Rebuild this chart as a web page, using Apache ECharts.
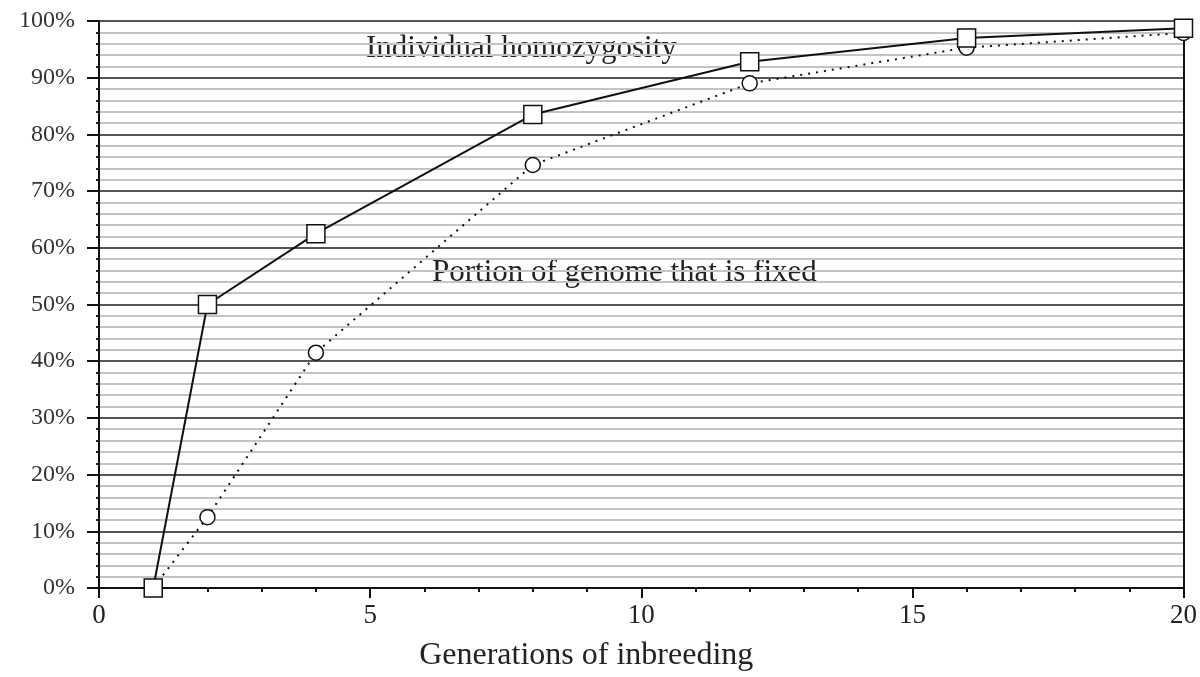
<!DOCTYPE html>
<html>
<head>
<meta charset="utf-8">
<script src="https://cdn.jsdelivr.net/npm/echarts@6/dist/echarts.min.js"></script>
<style>
  html, body { margin: 0; padding: 0; background: #fff; }
  #chart { width: 1200px; height: 677px; }
</style>
</head>
<body>
<div id="chart"></div>
<script>
// generations of inbreeding
const generations = [1, 2, 4, 8, 12, 16, 20]
// individual homozygosity (fraction)
const homozygosity = [0, 0.50, 0.625, 0.835, 0.928, 0.970, 0.987]
// portion of genome that is fixed (fraction)
const fixedPortion = [0, 0.125, 0.415, 0.746, 0.890, 0.953, 0.979]

const serif = 'Liberation Serif'

function pairs(xs, ys) {
  const out = []
  for (let i = 0; i < xs.length; i++) {
    out.push([xs[i], ys[i]])
  }
  return out
}

const myChart = echarts.init(document.getElementById('chart'))
const option = {
  backgroundColor: '#fff',
  animation: false,
  grid: { left: 99, right: 12, top: 21, bottom: 85 },
  xAxis: {
    type: 'value',
    min: 0,
    max: 20,
    interval: 5,
    name: 'Generations of inbreeding',
    nameLocation: 'middle',
    nameGap: 52,
    nameTextStyle: { fontFamily: serif, fontSize: 32, color: '#222', padding: [0, 110, 0, 0] },
    axisLine: { lineStyle: { color: '#111', width: 2 } },
    axisTick: { length: 10, lineStyle: { color: '#111', width: 2 } },
    minorTick: { show: true, splitNumber: 5, length: 4, lineStyle: { color: '#111', width: 2 } },
    axisLabel: { fontFamily: serif, fontSize: 27, color: '#222', margin: 14 },
    splitLine: { show: false }
  },
  yAxis: [
    {
      type: 'value',
      min: 0,
      max: 1,
      interval: 0.1,
      axisLine: { show: true, lineStyle: { color: '#111', width: 2 } },
      axisTick: { length: 12, lineStyle: { color: '#111', width: 2 } },
      minorTick: { show: true, splitNumber: 5, length: 3, lineStyle: { color: '#222', width: 2 } },
      axisLabel: {
        fontFamily: serif, fontSize: 24, color: '#333', margin: 24,
        formatter: v => Math.round(v * 100) + '%'
      },
      splitLine: { show: true, lineStyle: { color: '#555', width: 2 } },
      minorSplitLine: { show: true, lineStyle: { color: '#c4c4c4', width: 2 } }
    },
    {
      type: 'value',
      min: 0,
      max: 1,
      position: 'right',
      axisLine: { show: true, lineStyle: { color: '#111', width: 2 } },
      axisTick: { show: false },
      axisLabel: { show: false },
      splitLine: { show: false }
    }
  ],
  graphic: [
    {
      type: 'text', left: 366, top: 33,
      style: { text: 'Individual homozygosity', font: '31px "Liberation Serif"', fill: '#222' }
    },
    {
      type: 'text', left: 432, top: 257,
      style: { text: 'Portion of genome that is fixed', font: '31px "Liberation Serif"', fill: '#222' }
    }
  ],
  series: [
    {
      name: 'Portion of genome that is fixed',
      type: 'line',
      data: pairs(generations, fixedPortion),
      symbol: 'circle',
      symbolSize: 15,
      lineStyle: { color: '#111', width: 2, type: [2, 6] },
      itemStyle: { color: '#fff', borderColor: '#111', borderWidth: 1.5 },
      z: 3
    },
    {
      name: 'Individual homozygosity',
      type: 'line',
      data: pairs(generations, homozygosity),
      symbol: 'rect',
      symbolSize: 18,
      lineStyle: { color: '#111', width: 2 },
      itemStyle: { color: '#fff', borderColor: '#111', borderWidth: 1.5 },
      z: 4
    }
  ]
}
myChart.setOption(option)
</script>
</body>
</html>
